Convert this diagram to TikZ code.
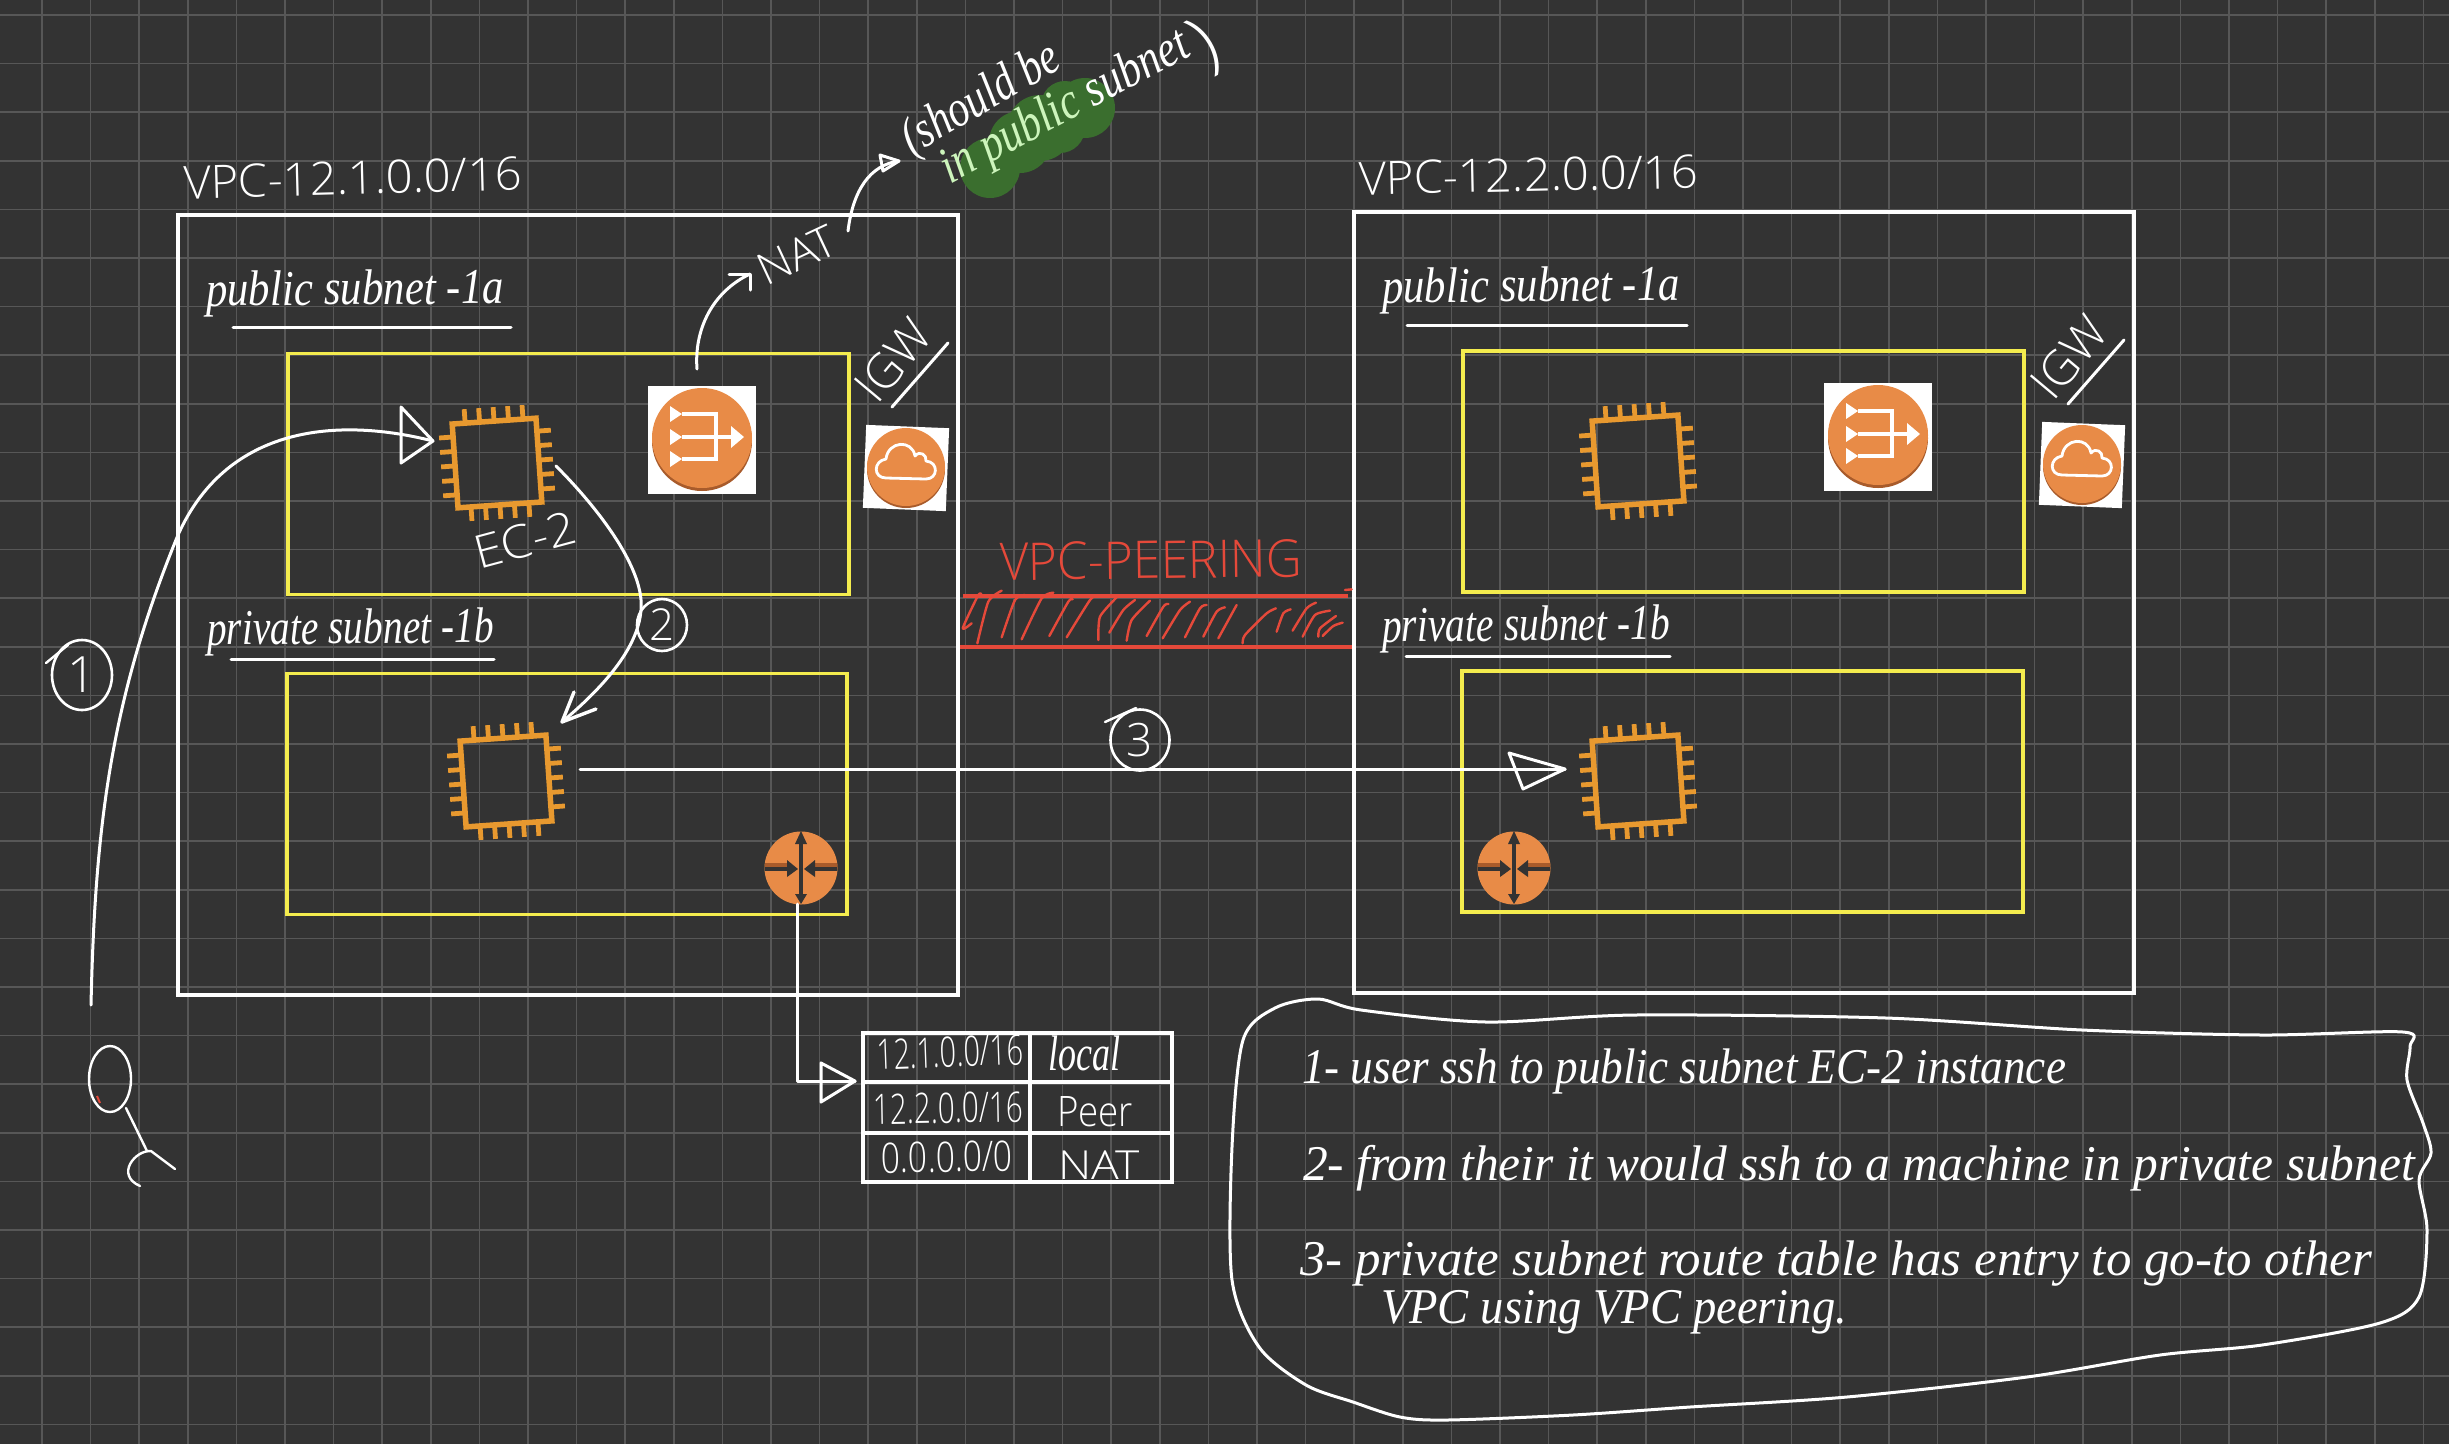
\documentclass[tikz,border=0pt]{standalone}
\usepackage{graphicx}
\usepackage{fontspec}
\usetikzlibrary{shapes.geometric,arrows.meta}
\setmainfont{Liberation Serif}
\newfontfamily\capf{Open Sans Light}
\definecolor{bgc}{HTML}{333333}
\definecolor{gridc}{HTML}{575757}
\definecolor{yel}{HTML}{F4EC4E}
\definecolor{chipc}{HTML}{E8992F}
\definecolor{orng}{HTML}{E88B47}
\definecolor{orngd}{HTML}{A85B2B}
\definecolor{redc}{HTML}{E5493A}
\definecolor{grn}{HTML}{3A6E2E}
\definecolor{lgrn}{HTML}{CDF5BC}
\tikzset{
 gridl/.style={draw=gridc,line width=1.7},
 vpcbox/.style={draw=white,line width=3.4,inner sep=0,outer sep=0},
 subbox/.style={draw=yel,line width=3.2,inner sep=0,outer sep=0},
 wline/.style={draw=white,line width=3,line cap=round,line join=round},
 thinw/.style={draw=white,line width=2.4,line cap=round,line join=round},
 cellb/.style={draw=white,line width=3.2},
 redl/.style={draw=redc,line width=2.4,line cap=round,line join=round},
 chipbox/.style={draw=chipc,line width=5.5,inner sep=0,outer sep=0},
 pin/.style={draw=chipc,line width=4.8},
 txt/.style={inner sep=0,outer sep=0,text=white},
 numc/.style={ellipse,draw=white,line width=2.6,inner sep=0,text=white},
}
% name, anchor, x, y, rotation, width, size, text
\newcommand\capl[8]{\node[txt,anchor=#2,rotate=#5,font=\capf\fontsize{#7}{#7}\selectfont] (#1) at (#3,#4) {\resizebox{#6pt}{\height}{#8}};}
\newcommand\curl[8]{\node[txt,anchor=#2,rotate=#5,font=\itshape\fontsize{#7}{#7}\selectfont] (#1) at (#3,#4) {\resizebox{#6pt}{\height}{#8}};}
\newcommand\chipicon[4]{%
 \node[chipbox,rotate=4,minimum size={2*#4}] (#1) at (#2,#3) {};
 \begin{scope}[shift={(#2,#3)},rotate=4]
 \foreach \o in {-29,-14.5,0,14.5,29}{
  \draw[pin] (\o,{-#4}) -- (\o,{-#4-14});
  \draw[pin] (\o,{#4}) -- (\o,{#4+14});
  \draw[pin] ({-#4},\o) -- ({-#4-14},\o);
  \draw[pin] ({#4},\o) -- ({#4+14},\o);
 }
 \end{scope}}
\newcommand\naticon[3]{%
 \node[fill=white,minimum width=108,minimum height=108,inner sep=0,outer sep=0] (#1b) at (#2,#3) {};
 \fill[orngd] (#2,{#3+1}) circle (50);
 \node[circle,fill=orng,minimum size=100,inner sep=0,outer sep=0] (#1) at (#2,{#3-2}) {};
 \begin{scope}[shift={(#2,{#3-3})}]
 \draw[white,line width=3.6] (-20,-23) -- (14,-23) -- (14,22) -- (-20,22) (-20,0) -- (30,0);
 \fill[white] (-32,-31) -- (-20,-23) -- (-32,-15) -- cycle (-32,-8) -- (-20,0) -- (-32,8) -- cycle (-32,14) -- (-20,22) -- (-32,30) -- cycle (29,-11) -- (42,0) -- (29,11) -- cycle;
 \end{scope}}
\newcommand\igwicon[3]{%
 \node[fill=white,minimum size=83,rotate=-2.3,inner sep=0,outer sep=0] (#1b) at (#2,#3) {};
 \fill[orngd] (#2,{#3+1}) circle (39);
 \node[circle,fill=orng,minimum size=78,inner sep=0,outer sep=0] (#1) at (#2,{#3-1}) {};
 \begin{scope}[shift={(#2,{#3-1})}]
 \draw[white,line width=2.8,line join=round] (-20,11) .. controls (-33,11) and (-33,-6) .. (-20,-8) .. controls (-18,-26) and (6,-28) .. (9,-11) .. controls (14,-17) and (21,-12) .. (20,-6) .. controls (33,-5) and (32,12) .. (20,12) -- cycle;
 \end{scope}}
\newcommand\routericon[3]{%
 \node[circle,fill=orng,minimum size=73,inner sep=0,outer sep=0] (#1) at (#2,#3) {};
 \begin{scope}[shift={(#2,#3)}]
 \fill[orngd] (-36,-5) -- (-14,-5) -- (-14,0) -- (-36,0) -- cycle (36,-5) -- (14,-5) -- (14,0) -- (36,0) -- cycle;
 \draw[bgc,line width=3.6] (0,-28) -- (0,30) (-36,1) -- (-12,1) (36,1) -- (12,1);
 \fill[bgc] (-14,-8) -- (-3,1) -- (-14,9) -- cycle (14,-8) -- (3,1) -- (14,9) -- cycle (-6,-24) -- (0,-37) -- (6,-24) -- cycle (-6,26) -- (0,36) -- (6,26) -- cycle;
 \end{scope}}
\begin{document}
\begin{tikzpicture}[x=1pt,y=-1pt]
\useasboundingbox (0,0) rectangle (2449,1444);
\fill[bgc] (0,0) rectangle (2449,1444);
\foreach \i in {0,...,49} \draw[gridl] ({42+48.6*\i},0) -- ({42+48.6*\i},1444);
\foreach \i in {0,...,29} \draw[gridl] (0,{15+48.6*\i}) -- (2449,{15+48.6*\i});

% green highlight
\fill[grn] (990,168) circle (30) (1020,142) circle (31) (1040,128) circle (33) (1060,128) circle (25) (1085,108) circle (30) (1065,105) circle (24);

% boxes
\node[vpcbox,minimum width=780,minimum height=780] (vpc1) at (568,605) {};
\node[vpcbox,minimum width=780,minimum height=781] (vpc2) at (1744,602.5) {};
\node[subbox,minimum width=561,minimum height=241] (pub1) at (568.5,474) {};
\node[subbox,minimum width=560,minimum height=241] (pri1) at (567,794) {};
\node[subbox,minimum width=561,minimum height=241] (pub2) at (1743.5,471.5) {};
\node[subbox,minimum width=561,minimum height=241] (pri2) at (1742.5,791.5) {};

% icons
\chipicon{chip1}{497}{463}{42}
\chipicon{chip2}{506}{781}{43}
\chipicon{chip3}{1638}{461}{43}
\chipicon{chip4}{1638}{781}{43}
\naticon{nat1}{702}{440}
\naticon{nat2}{1878}{437}
\igwicon{igw1}{906}{468}
\igwicon{igw2}{2082}{465}
\routericon{rt1}{801}{868}
\routericon{rt2}{1514}{868}

% labels
\capl{lv1}{base west}{184}{199}{1.5}{338}{46}{VPC-12.1.0.0/16}
\capl{lv2}{base west}{1359}{195}{1.2}{339}{46}{VPC-12.2.0.0/16}
\curl{lp1}{base west}{206}{306}{0.5}{298}{50}{public subnet -1a}
\curl{lq1}{base west}{207}{645}{0.5}{287}{50}{private subnet -1b}
\curl{lp2}{base west}{1382}{303}{0.5}{298}{50}{public subnet -1a}
\curl{lq2}{base west}{1382}{642}{0.5}{288}{50}{private subnet -1b}
\coordinate (u1a) at (233,327); \coordinate (u1b) at (511,327);
\coordinate (u2a) at (231,659); \coordinate (u2b) at (494,659);
\coordinate (u3a) at (1407,325); \coordinate (u3b) at (1687,325);
\coordinate (u4a) at (1406,656); \coordinate (u4b) at (1670,656);
\draw[wline] (u1a) -- (u1b); \draw[wline] (u2a) -- (u2b);
\draw[wline] (u3a) -- (u3b); \draw[wline] (u4a) -- (u4b);

\capl{lec}{center}{525}{540}{15}{104}{46}{EC-2}
\capl{lnat}{center}{797}{255}{25}{82}{44}{NAT}
\capl{ligw1}{center}{893}{360}{50}{90}{48}{IGW}
\capl{ligw2}{center}{2069}{357}{50}{90}{48}{IGW}
\coordinate (ui1a) at (892,407); \coordinate (ui1b) at (948,343);
\coordinate (ui2a) at (2068,404); \coordinate (ui2b) at (2124,340);
\draw[wline] (ui1a) -- (ui1b); \draw[wline] (ui2a) -- (ui2b);

% should be
\curl{ls}{base west}{912}{155}{30}{175}{52}{(should be}
\curl{lin}{base west}{950}{184}{28}{275}{52}{\textcolor{lgrn}{in public} subnet}
\node[txt,rotate=30,font=\capf\fontsize{72}{72}\selectfont] (lclose) at (1206,46) {)};

% connectors
\coordinate (a1s) at (91,1005); \coordinate (a1m) at (178,535); \coordinate (a1e) at (433,441);
\draw[wline] (a1s) .. controls (95,830) and (110,700) .. (a1m) .. controls (225,430) and (330,415) .. (a1e);
\coordinate (t1a) at (401,407); \coordinate (t1b) at (401,463);
\draw[wline] (a1e) -- (t1a) -- (t1b) -- cycle;

\coordinate (a2s) at (556,466); \coordinate (a2m) at (641,610); \coordinate (a2e) at (562,722);
\draw[wline] (a2s) .. controls (600,510) and (645,570) .. (a2m) .. controls (638,650) and (600,690) .. (a2e);
\coordinate (t2a) at (574,692); \coordinate (t2b) at (596,709);
\draw[wline,line width=3.4] (t2a) -- (a2e) -- (t2b);

\coordinate (a3s) at (580,769); \coordinate (a3e) at (1565,769);
\draw[wline] (a3s) -- (a3e);
\coordinate (t3a) at (1509,753); \coordinate (t3b) at (1523,789);
\draw[wline] (a3e) -- (t3a) -- (t3b) -- cycle;

\coordinate (n1s) at (697,369); \coordinate (n1e) at (750,274);
\draw[wline] (n1s) .. controls (694,330) and (712,292) .. (n1e);
\coordinate (h1a) at (729,274); \coordinate (h1b) at (750,290);
\draw[wline] (h1a) -- (n1e) -- (h1b);

\coordinate (n2s) at (848,231); \coordinate (n2e) at (899,161);
\draw[wline] (n2s) .. controls (853,190) and (870,165) .. (n2e);
\coordinate (h2a) at (880,155); \coordinate (h2b) at (883,171);
\draw[wline] (h2a) -- (n2e) -- (h2b) -- cycle;

\coordinate (rs) at (797,904); \coordinate (re) at (855,1081);
\draw[wline] (rs) |- (re);
\coordinate (t4a) at (821,1063); \coordinate (t4b) at (821,1102);
\draw[wline] (re) -- (t4a) -- (t4b) -- cycle;

% peering
\coordinate (p1a) at (963,596); \coordinate (p1b) at (1348,596);
\coordinate (p2a) at (960,647); \coordinate (p2b) at (1352,647);
\draw[redc,line width=3.2] (p1a) -- (p1b);
\draw[redc,line width=3.2] (p2a) -- (p2b);
\capl{lpeer}{center}{1151}{560}{0.8}{302}{52}{\textcolor{redc}{VPC-PEERING}}
\begin{scope}[shift={(950,520)},x=0.3333pt,y=-0.3333pt]
\foreach \p in {
 {(65,310) (38,325) (85,225) (95,225)},
 {(82,370) (115,245) (155,212)},
 {(155,352) (195,240) (225,225)},
 {(215,358) (275,235) (310,218)},
 {(298,348) (355,245) (368,238)},
 {(350,352) (420,240) (440,228)},
 {(445,360) (450,290) (500,232)},
 {(478,338) (520,270) (555,240)},
 {(530,362) (545,300) (600,242)},
 {(590,348) (640,260) (655,252)},
 {(638,355) (690,270) (720,245)},
 {(705,352) (750,265) (770,255)},
 {(760,350) (800,275) (825,262)},
 {(805,355) (860,255)},
 {(878,370) (885,345) (950,280) (978,265)},
 {(980,335) (1000,280) (1022,268)},
 {(1028,332) (1070,265) (1098,248)},
 {(1058,350) (1095,285) (1140,272)},
 {(1105,350) (1110,325) (1158,288)},
 {(1118,348) (1150,318) (1178,308)},
 {(1185,210) (1205,208)}}
 \draw[redl] plot[smooth,tension=0.4] coordinates \p;
\end{scope}

% numbers
\node[numc,minimum width=60,minimum height=70,font=\capf\fontsize{50}{50}\selectfont] (c1) at (82,675) {1};
\node[numc,minimum width=50,minimum height=52,font=\capf\fontsize{44}{44}\selectfont] (c2) at (662,625) {2};
\node[numc,minimum width=59,minimum height=61,font=\capf\fontsize{46}{46}\selectfont] (c3) at (1140,740) {3};
\coordinate (k1a) at (46,663); \coordinate (k1b) at (68,645);
\coordinate (k3a) at (1105,722); \coordinate (k3b) at (1136,708);
\draw[thinw] (k1a) -- (k1b); \draw[thinw] (k3a) -- (k3b);

% person
\node[ellipse,draw=white,line width=2.4,minimum width=42,minimum height=66,inner sep=0] (head) at (110,1079) {};
\coordinate (m1) at (97,1096); \coordinate (m2) at (100,1103);
\draw[redc,line width=2] (m1) -- (m2);
\coordinate (b1) at (126,1108); \coordinate (b2) at (147,1151);
\draw[thinw] (b1) -- (b2);
\coordinate (l1) at (175,1169); \coordinate (l2) at (140,1186);
\draw[thinw] (l1) -- (151,1151) .. controls (135,1150) and (115,1175) .. (l2);

% table
\foreach \xa/\xb in {863/1030,1030/1172}
 \foreach \ya/\yb in {1033/1082,1082/1133,1133/1182}
  \draw[cellb] (\xa,\ya) rectangle (\xb,\yb);
\capl{t11}{center}{950}{1052}{2}{146}{42}{12.1.0.0/16}
\curl{t12}{center}{1084}{1053}{0}{72}{50}{local}
\capl{t21}{center}{948}{1108}{1}{150}{42}{12.2.0.0/16}
\capl{t22}{center}{1095}{1112}{0}{76}{42}{Peer}
\capl{t31}{center}{947}{1157}{1}{131}{42}{0.0.0.0/0}
\capl{t32}{center}{1099}{1165}{0}{82}{40}{NAT}

% notes
\coordinate (nb) at (1318,999);
\draw[wline] plot[smooth cycle,tension=0.5] coordinates {(nb) (1361,1010) (1486,1022) (1635,1015) (1886,1018) (2082,1030) (2262,1035) (2403,1032) (2410,1047) (2407,1080) (2423,1123) (2431,1153) (2419,1180) (2427,1230) (2419,1297) (2380,1323) (2262,1345) (2160,1355) (2027,1377) (1847,1397) (1690,1407) (1573,1415) (1447,1420) (1400,1417) (1353,1402) (1306,1385) (1259,1347) (1232,1280) (1232,1147) (1243,1040) (1275,1008)};
\curl{n1}{base west}{1302}{1083}{0}{764}{50}{1- user ssh to public subnet EC-2 instance}
\curl{n2}{base west}{1303}{1180}{0}{1112}{50}{2- from their it would ssh to a machine in private subnet}
\curl{n3}{base west}{1300}{1275}{0}{1072}{50}{3- private subnet route table has entry to go-to other}
\curl{n4}{base west}{1381}{1323}{0}{466}{50}{VPC using VPC peering.}
\end{tikzpicture}
\end{document}
